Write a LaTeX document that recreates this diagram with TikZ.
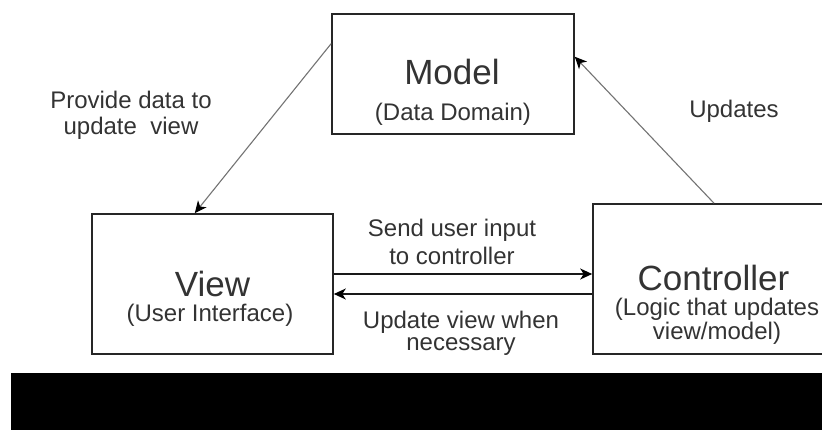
\documentclass[tikz,border=0pt]{standalone}
\usepackage{fontspec}
\setmainfont{Liberation Sans}
\usetikzlibrary{arrows.meta,calc}
\begin{document}
\begin{tikzpicture}[x=1pt,y=-1pt,
  box/.style={draw=black!85, line width=1.6pt, inner sep=0pt},
  title/.style={font=\fontsize{35}{38}\selectfont, text=black!80, inner sep=0pt, anchor=base},
  note/.style={font=\fontsize{24}{26}\selectfont, text=black!80, align=center, inner sep=0pt, anchor=base},
  tip/.style={-{Stealth[length=12pt,width=11pt,inset=3.5pt,color=black]}},
  link/.style={tip, draw=black!55, line width=1.1pt},
  flow/.style={tip, draw=black!90, line width=1.6pt}
]
\useasboundingbox (0,0) rectangle (822,430);
\clip (0,0) rectangle (822,430);

% the three components
\node[box, minimum width=242pt, minimum height=120pt] (model) at (453,74) {};
\node[box, minimum width=241pt, minimum height=140pt] (view) at (212.5,284) {};
\node[box, minimum width=242pt, minimum height=150pt] (ctrl) at (714,279) {};

% component captions (multi-line texts are placed by their last baseline)
\node[title] (modelname) at (452,85) {Model};
\node[note]  (modelsub)  at (453,121) {(Data Domain)};
\node[title] (viewname)  at (212.5,297) {View};
\node[note]  (viewsub)   at (210,322) {(User Interface)};
\node[title] (ctrlname)  at (713.5,291) {Controller};
\node[note, font=\fontsize{24}{24}\selectfont] (ctrlsub) at (717,339) {(Logic that updates\\view/model)};

% model -> view and controller -> model
\draw[link] ($(model.north west)!0.25!(model.south west)$) -- ($(view.north west)!0.427!(view.north east)$);
\draw[link] (ctrl.north) -- ($(model.north east)!0.358!(model.south east)$);

% view <-> controller
\coordinate (sendA) at ($(view.east)+(0,-10)$);
\coordinate (backA) at ($(view.east)+(0,10)$);
\draw[flow] (sendA) -- (sendA -| ctrl.west);
\draw[flow] (backA -| ctrl.west) -- (backA);

% connector labels
\node[note] (provide) at (131,135) {Provide data to\\update\ \ view};
\node[note] (updates) at (734,118) {Updates};
\node[note, font=\fontsize{24}{28}\selectfont] (send) at (452,265) {Send user input\\to controller};
\node[note, font=\fontsize{24}{23}\selectfont] (refresh) at (461,351) {Update view when\\necessary};

% band along the bottom
\fill[black] (11,373) rectangle (822,430);
\end{tikzpicture}
\end{document}
